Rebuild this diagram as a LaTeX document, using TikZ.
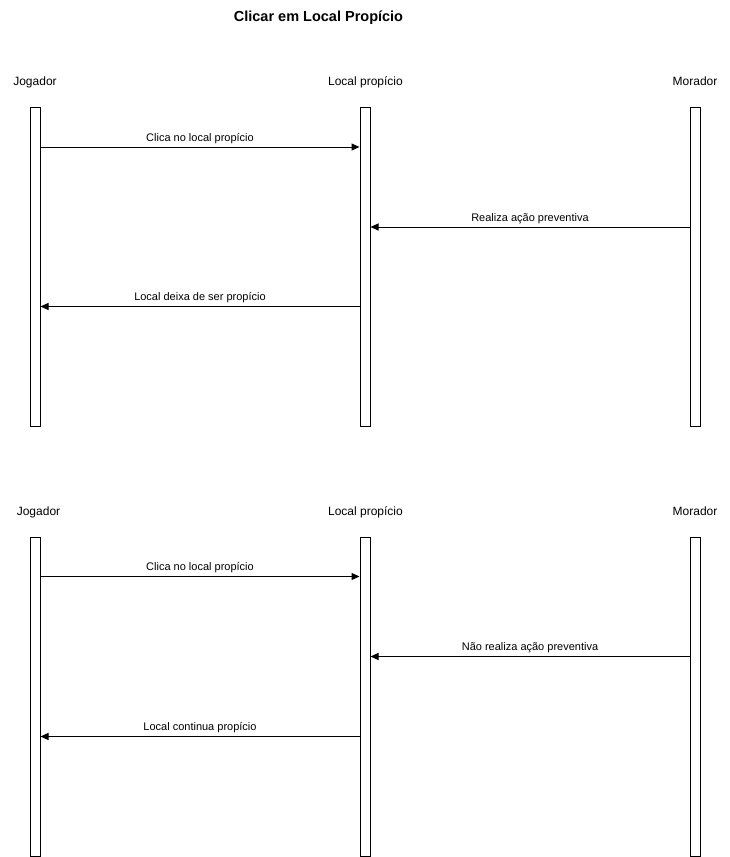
\documentclass[tikz,border=0pt]{standalone}
\usepackage{fontspec}
\setmainfont{Liberation Sans}
\usetikzlibrary{arrows.meta}
\begin{document}
\begin{tikzpicture}[x=1pt,y=-1pt,
  life/.style={draw=black,line width=1pt,fill=white,minimum width=10pt,minimum height=319pt,inner sep=0pt,anchor=north},
  head/.style={font=\fontsize{12}{14}\selectfont,anchor=base,inner sep=0pt},
  msg/.style={draw=black,line width=1pt,-{Triangle[length=8pt,width=7pt]}},
  lbl/.style={font=\fontsize{11}{13}\selectfont,text depth=0pt,inner sep=0pt,above=5.5pt}]
\useasboundingbox (0,0) rectangle (730,857);
\node[font=\bfseries\fontsize{14.5}{16}\selectfont,anchor=base,inner sep=0pt] (title) at (318.5,21) {Clicar em Local Propício};
% first diagram
\node[head] (hj1) at (35,85) {Jogador};
\node[head] (hl1) at (365.5,85) {Local propício};
\node[head] (hm1) at (695,85) {Morador};
\node[life] (j1) at (35,106.5) {};
\node[life] (l1) at (365,106.5) {};
\node[life] (m1) at (695,106.5) {};
\draw[msg] (j1.east |- 0,147) -- node[lbl]{Clica no local propício} (l1.west |- 0,147);
\draw[msg] (m1.west |- 0,227) -- node[lbl]{Realiza ação preventiva} (l1.east |- 0,227);
\draw[msg] (l1.west |- 0,306.5) -- node[lbl]{Local deixa de ser propício} (j1.east |- 0,306.5);
% second diagram
\node[head] (hj2) at (38.5,515) {Jogador};
\node[head] (hl2) at (365.5,515) {Local propício};
\node[head] (hm2) at (695,515) {Morador};
\node[life] (j2) at (35,536.5) {};
\node[life] (l2) at (365,536.5) {};
\node[life] (m2) at (695,536.5) {};
\draw[msg] (j2.east |- 0,576.5) -- node[lbl]{Clica no local propício} (l2.west |- 0,576.5);
\draw[msg] (m2.west |- 0,656.5) -- node[lbl]{Não realiza ação preventiva} (l2.east |- 0,656.5);
\draw[msg] (l2.west |- 0,736.5) -- node[lbl]{Local continua propício} (j2.east |- 0,736.5);
\end{tikzpicture}
\end{document}
